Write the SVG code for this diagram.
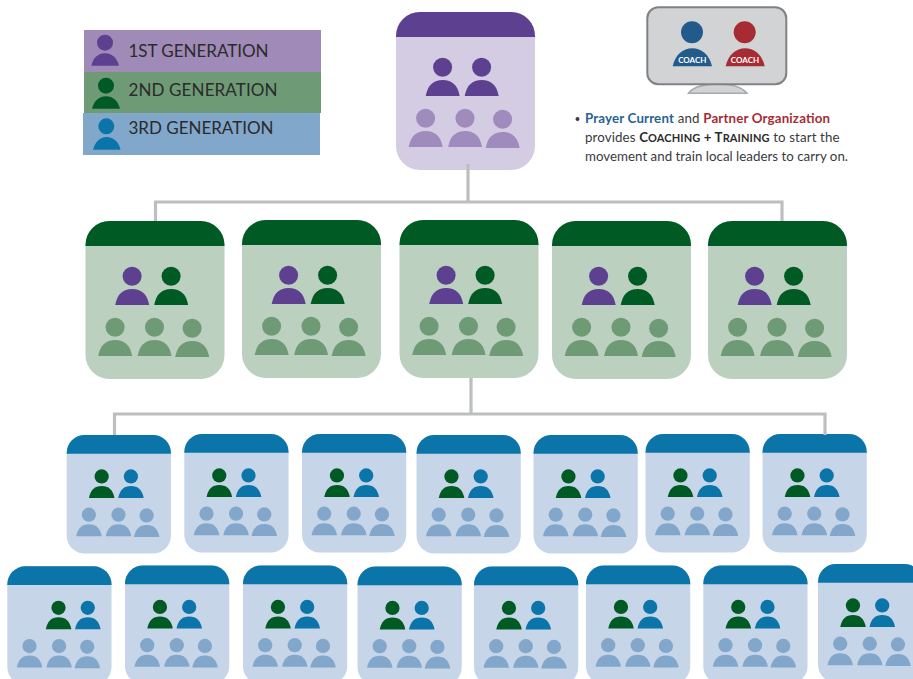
<svg xmlns="http://www.w3.org/2000/svg" width="913" height="679" viewBox="0 0 913 679">
<style>
text{font-family:"Lato","Open Sans","Liberation Sans",sans-serif}
.p{--h:#5d4190;--b:#d4cce2;--a:#5d4190;--c:#5d4190;--l:#a08bbd}
.g{--h:#005a24;--b:#bbd0bf;--a:#5d4190;--c:#005a24;--l:#6e9b75}
.t{--h:#0b74a8;--b:#c6d5e8;--a:#005a24;--c:#0b74a8;--l:#82a7cb}
.hd{fill:var(--h)}.bd{fill:var(--b)}.a{fill:var(--a)}.c{fill:var(--c)}.l{fill:var(--l)}
.conn{fill:none;stroke:#bcbec0;stroke-width:3.2}
.leg{font-size:17px;fill:#2b2a2c}
.note{font-size:13.3px;fill:#3a3a3c}
.sc{font-weight:700;fill:#2b2a2c}
.coach{font-size:8px;font-weight:700;fill:#fff;text-anchor:middle}
</style>
<defs>
<g id="person"><circle cx=".3" cy="-28.7" r="9.5"/><path d="M-16.600 0C-14.500-11-9-16 .4-16S15.300-11 17.400 0Z"/></g>
<g id="shape">
<rect class="bd" x="0" y="0" width="139" height="158" rx="24"/>
<path class="hd" d="M0 25V24A24 24 0 0 1 24 0H115A24 24 0 0 1 139 24V25Z"/>
</g>
<g id="lower">
<use href="#person" class="l" x="29.300" y="135"/><use href="#person" class="l" x="68.700" y="135"/><use href="#person" class="l" x="106.300" y="136"/>
</g>
<g id="card">
<use href="#shape"/>
<use href="#person" class="a" x="46.300" y="84"/><use href="#person" class="c" x="85.300" y="84"/>
<use href="#lower"/>
</g>
<g id="card-shift">
<use href="#shape"/>
<use href="#person" class="a" x="68" y="84"/><use href="#person" class="c" x="107" y="84"/>
<use href="#lower"/>
</g>
</defs>

<g id="legend">
<g id="legend-1"><rect x="84" y="30" width="237" height="42" fill="#9f8ab8"/><circle cx="105" cy="42.700" r="8" fill="#5d4190"/><path d="M91.300 65.700C93 58 98 53.300 105 53.300S117 58 119 65.700Z" fill="#5d4190"/><text class="leg" x="128.500" y="57.300" textLength="140">1ST GENERATION</text></g>
<g id="legend-2"><rect x="84" y="72" width="237" height="41" fill="#6e9b75"/><circle cx="106" cy="85.700" r="8" fill="#005a24"/><path d="M92 108.700C94 101 99 96.300 106 96.300S118 101 120 108.700Z" fill="#005a24"/><text class="leg" x="128.500" y="95.700" textLength="149">2ND GENERATION</text></g>
<g id="legend-3"><rect x="83" y="113" width="237" height="42" fill="#81a7cb"/><circle cx="106.300" cy="126.300" r="8" fill="#0b74a8"/><path d="M93 149.700C95 142 100 137 106.600 137S119 142 120.500 149.700Z" fill="#0b74a8"/><text class="leg" x="128.500" y="134.300" textLength="145">3RD GENERATION</text></g>
</g>

<g id="coach-screen">
<path d="M688.500 93.300C693 87 705 84 717.500 84S742 87 747 93.300Z" fill="#d1d3d4" stroke="#a7a9ac" stroke-width="1.500"/>
<rect x="647.300" y="7.300" width="139" height="77" rx="11" fill="#d1d3d4" stroke="#808285" stroke-width="2"/>
<circle cx="692" cy="32.300" r="11" fill="#235a8c"/><path d="M672.700 66.300C675 55 683 48.300 692.300 48.300S709.500 55 712 66.300Z" fill="#235a8c"/>
<circle cx="744.700" cy="32.300" r="11" fill="#a72b33"/><path d="M725.700 66.300C728 55 736 48.300 745.200 48.300S762.300 55 764.700 66.300Z" fill="#a72b33"/>
<text class="coach" x="692.300" y="63">COACH</text><text class="coach" x="745" y="63">COACH</text>
</g>

<g id="note">
<circle cx="577.500" cy="119" r="2" fill="#3a3a3c"/>
<text class="note" x="585" y="122.800" textLength="245"><tspan font-weight="700" fill="#2a5f93">Prayer Current</tspan> and <tspan font-weight="700" fill="#a72b33">Partner Organization</tspan></text>
<text class="note" x="585" y="142" textLength="254.500">provides <tspan class="sc">C</tspan><tspan class="sc" font-size="11">OACHING</tspan><tspan class="sc"> + T</tspan><tspan class="sc" font-size="11">RAINING</tspan> to start the</text>
<text class="note" x="585" y="161" textLength="263">movement and train local leaders to carry on.</text>
</g>

<g id="n1" class="p" transform="translate(396 12)"><use href="#card"/></g>

<g id="n2-1" class="g" transform="translate(85.500 221)"><use href="#card"/></g>
<g id="n2-2" class="g" transform="translate(242 220)"><use href="#card"/></g>
<g id="n2-3" class="g" transform="translate(399.500 220)"><use href="#card"/></g>
<g id="n2-4" class="g" transform="translate(552 221)"><use href="#card"/></g>
<g id="n2-5" class="g" transform="translate(708 221)"><use href="#card"/></g>

<g id="n3-1" class="t" transform="translate(66.700 435) scale(.75)"><use href="#card"/></g>
<g id="n3-2" class="t" transform="translate(184.300 434) scale(.75)"><use href="#card"/></g>
<g id="n3-3" class="t" transform="translate(302 434) scale(.75)"><use href="#card"/></g>
<g id="n3-4" class="t" transform="translate(416.500 435) scale(.75)"><use href="#card"/></g>
<g id="n3-5" class="t" transform="translate(533.500 435) scale(.75)"><use href="#card"/></g>
<g id="n3-6" class="t" transform="translate(645.500 434) scale(.75)"><use href="#card"/></g>
<g id="n3-7" class="t" transform="translate(762.500 434) scale(.75)"><use href="#card"/></g>

<g id="n4-1" class="t" transform="translate(7.300 566.300) scale(.75)"><use href="#card-shift"/></g>
<g id="n4-2" class="t" transform="translate(125 565.500) scale(.75)"><use href="#card"/></g>
<g id="n4-3" class="t" transform="translate(243 565.500) scale(.75)"><use href="#card"/></g>
<g id="n4-4" class="t" transform="translate(357.500 566.500) scale(.75)"><use href="#card"/></g>
<g id="n4-5" class="t" transform="translate(474 566.500) scale(.75)"><use href="#card"/></g>
<g id="n4-6" class="t" transform="translate(586 565.500) scale(.75)"><use href="#card"/></g>
<g id="n4-7" class="t" transform="translate(703.300 565.500) scale(.75)"><use href="#card"/></g>
<g id="n4-8" class="t" transform="translate(818 564) scale(.75)"><use href="#card"/></g>

<g id="connectors">
<path class="conn" d="M468 164V203"/>
<path class="conn" d="M155.500 221V202H782V221"/>
<path class="conn" d="M471 378V414"/>
<path class="conn" d="M114.500 435V414H825V435"/>
</g>
</svg>
